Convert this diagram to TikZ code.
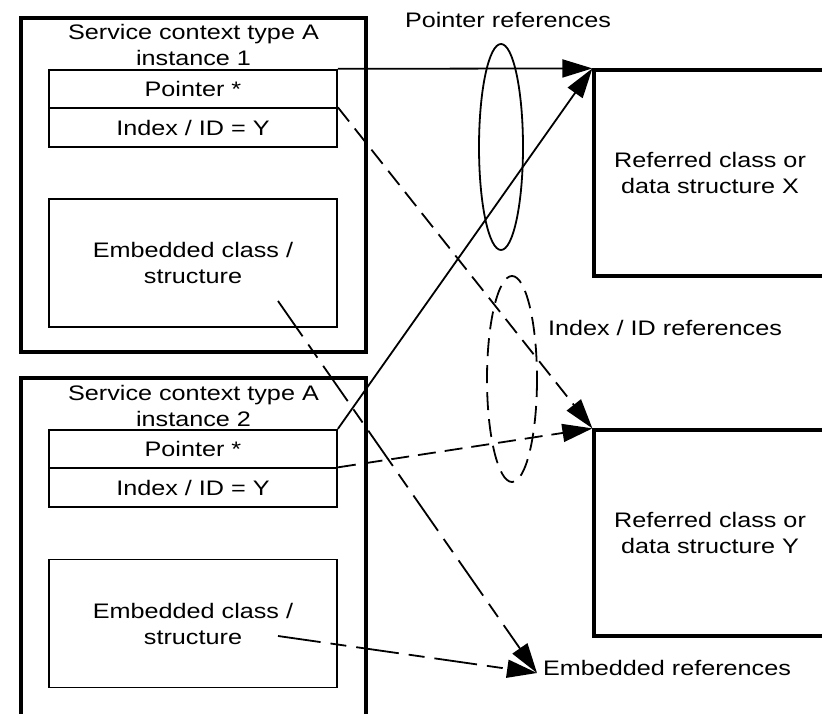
\documentclass[tikz,border=0pt]{standalone}
\usepackage{fontspec}
\setmainfont[FakeStretch=1.2]{Liberation Sans}
\usetikzlibrary{arrows.meta}

\begin{document}
\begin{tikzpicture}[x=1pt, y=-1pt,
  every node/.style={font=\fontsize{21}{26}\selectfont, align=center, inner sep=0pt},
  outerbox/.style={draw, line width=3.2pt},
  refbox/.style={draw, line width=3.2pt, minimum width=232pt, minimum height=206pt},
  field/.style={draw, line width=1.8pt, minimum width=288pt, minimum height=38.5pt},
  embbox/.style={draw, line width=1.8pt, minimum width=288pt, minimum height=128pt},
  tip/.style={-{Triangle[length=30pt, width=18pt]}},
  ptrline/.style={tip, line width=1.8pt},
  idxline/.style={tip, line width=1.8pt, dash pattern=on 18pt off 9pt},
  embline/.style={tip, line width=1.8pt, dash pattern=on 43pt off 10pt on 16pt off 10pt},
  group/.style={line width=1.8pt}]

\useasboundingbox (0,0) rectangle (822,714);
\clip (0,0) rectangle (822,714);

% first service context
\node[outerbox, minimum width=345pt, minimum height=334pt] (o1) at (193.5,185) {};
\node (t1) at (193.5,45) {Service context type A\\instance 1};
\node[field] (p1) at (193,89) {Pointer *};
\node[field] (i1) at (193,127.5) {Index / ID = Y};
\node[embbox] (e1) at (193,263) {Embedded class /\\structure};

% second service context (runs past the lower edge)
\node[outerbox, minimum width=345pt, minimum height=362pt] (o2) at (193.5,559) {};
\node (t2) at (193.5,405.5) {Service context type A\\instance 2};
\node[field] (p2) at (193,449) {Pointer *};
\node[field] (i2) at (193,487.5) {Index / ID = Y};
\node[embbox] (e2) at (193,623.5) {Embedded class /\\structure};

% referred structures (open towards the right edge)
\node[refbox] (bx) at (710,173) {Referred class or\\data structure X};
\node[refbox] (by) at (710,533) {Referred class or\\data structure Y};

% labels
\node (lptr) at (508,20) {Pointer references};
\node (lidx) at (665,328) {Index / ID references};
\node (lemb) at (667,668) {Embedded references};

% reference groups
\draw[group] (501,147) ellipse [x radius=22, y radius=103];
\draw[group, dash pattern=on 18pt off 9pt] (512,379) ellipse [x radius=25, y radius=103];

% pointer references
\draw[ptrline] (p1.north east) -- (bx.north west);
\draw[ptrline] (p2.north east) -- (bx.north west);

% index / ID references
\draw[idxline] (i1.north east) -- (by.north west);
\draw[idxline] (i2.north east) -- (by.north west);

% embedded references
\coordinate (s1) at (278,301);
\coordinate (s2) at (278,636);
\coordinate (embtip) at (537,673);
\draw[embline] (s1) -- (embtip);
\draw[embline] (s2) -- (embtip);
\end{tikzpicture}
\end{document}
